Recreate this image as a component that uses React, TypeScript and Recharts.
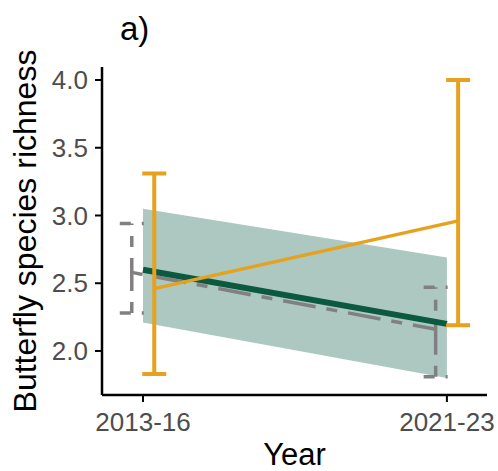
import React from "react";
import {
  ComposedChart,
  Line,
  Area,
  XAxis,
  YAxis,
  ErrorBar,
  Label,
} from "recharts";

// categories and values
const YEARS = ["2013-16", "2021-23"];
const Y_TICKS = [2.0, 2.5, 3.0, 3.5, 4.0];

const ORANGE_MEAN = [2.46, 2.96];
const ORANGE_LOW = [1.83, 2.19];
const ORANGE_HIGH = [3.31, 4.0];

const GRAY_MEAN = [2.58, 2.16];
const GRAY_LOW = [2.28, 1.81];
const GRAY_HIGH = [2.94, 2.47];

const FIT = [2.6, 2.2];
const FIT_LOW = [2.21, 1.8];
const FIT_HIGH = [3.05, 2.69];

// position_dodge-ish offset in category units
const DODGE = 0.037;

const FONT = "'Liberation Sans', Arial, sans-serif";
const ORANGE = "#e6a11f";
const GREEN = "#0b5a3f";
const GRAY = "#808080";

const orangeData = YEARS.map((_, i) => ({
  x: i + DODGE,
  y: ORANGE_MEAN[i],
  err: [ORANGE_MEAN[i] - ORANGE_LOW[i], ORANGE_HIGH[i] - ORANGE_MEAN[i]],
}));

const grayData = YEARS.map((_, i) => ({
  x: i - DODGE,
  y: GRAY_MEAN[i],
  err: [GRAY_MEAN[i] - GRAY_LOW[i], GRAY_HIGH[i] - GRAY_MEAN[i]],
}));

const fitData = YEARS.map((_, i) => ({
  x: i,
  y: FIT[i],
  band: [FIT_LOW[i], FIT_HIGH[i]],
}));

const YTitle = (props: any) => {
  const vb = props.viewBox;
  const cy = vb.y + vb.height / 2;
  return (
    <text
      transform={`translate(36,${cy}) rotate(-90)`}
      textAnchor="middle"
      fontSize={32}
      fontFamily={FONT}
      fill="#000"
    >
      Butterfly species richness
    </text>
  );
};

const XTitle = (props: any) => {
  const vb = props.viewBox;
  return (
    <text
      x={vb.x + vb.width / 2}
      y={465}
      textAnchor="middle"
      fontSize={31}
      fontFamily={FONT}
      fill="#000"
    >
      Year
    </text>
  );
};

export default function App() {
  const tickStyle = { fill: "#4d4d4d", fontSize: 26, fontFamily: FONT };
  return (
    <div
      style={{
        position: "absolute",
        left: 0,
        top: 0,
        width: 498,
        height: 471,
        background: "#fff",
        fontFamily: FONT,
      }}
    >
      <div
        style={{
          position: "absolute",
          left: 120,
          top: 12,
          fontSize: 33,
          lineHeight: "33px",
          color: "#000",
        }}
      >
        a)
      </div>
      <ComposedChart
        width={498}
        height={471}
        margin={{ top: 67, right: 11, left: 0, bottom: 0 }}
      >
        <XAxis
          dataKey="x"
          type="number"
          domain={[-0.135, 1.132]}
          ticks={[0, 1]}
          tickFormatter={(v: number) => YEARS[v] ?? ""}
          height={76}
          tick={tickStyle}
          tickSize={7}
          tickMargin={11}
          axisLine={{ stroke: "#000", strokeWidth: 2.5 }}
          tickLine={{ stroke: "#000", strokeWidth: 2 }}
          allowDataOverflow
        >
          <Label content={XTitle} />
        </XAxis>
        <YAxis
          type="number"
          domain={[1.675, 4.096]}
          ticks={Y_TICKS}
          tickFormatter={(v: number) => v.toFixed(1)}
          width={102}
          tick={tickStyle}
          tickSize={7}
          tickMargin={7}
          axisLine={{ stroke: "#000", strokeWidth: 2.5 }}
          tickLine={{ stroke: "#000", strokeWidth: 2 }}
          allowDataOverflow
        >
          <Label content={YTitle} />
        </YAxis>

        {/* gray dashed group (behind ribbon) */}
        <Line
          data={grayData}
          dataKey="y"
          type="linear"
          stroke={GRAY}
          strokeWidth={3.5}
          strokeDasharray="11 11 33 11"
          dot={false}
          activeDot={false}
          isAnimationActive={false}
        >
          <ErrorBar
            dataKey="err"
            direction="y"
            width={12}
            stroke={GRAY}
            strokeWidth={3.5}
            strokeDasharray="11 11 33 11"
          />
        </Line>

        {/* model fit ribbon */}
        <Area
          data={fitData}
          dataKey="band"
          type="linear"
          stroke="none"
          fill="#1f6b55"
          fillOpacity={0.37}
          isAnimationActive={false}
        />
        <Line
          data={fitData}
          dataKey="y"
          type="linear"
          stroke={GREEN}
          strokeWidth={6}
          dot={false}
          activeDot={false}
          isAnimationActive={false}
        />

        {/* orange means with error bars */}
        <Line
          data={orangeData}
          dataKey="y"
          type="linear"
          stroke={ORANGE}
          strokeWidth={3.5}
          dot={false}
          activeDot={false}
          isAnimationActive={false}
        >
          <ErrorBar
            dataKey="err"
            direction="y"
            width={12}
            stroke={ORANGE}
            strokeWidth={4}
          />
        </Line>
      </ComposedChart>
    </div>
  );
}
